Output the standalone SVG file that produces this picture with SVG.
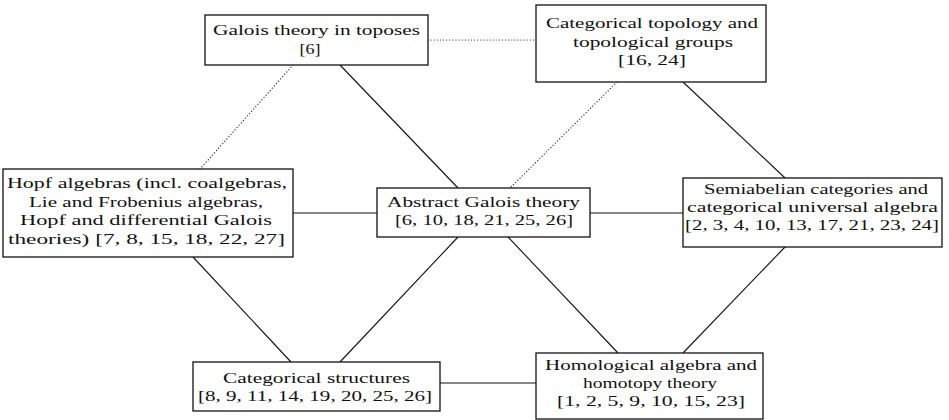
<svg xmlns="http://www.w3.org/2000/svg" width="949" height="420" viewBox="0 0 949 420">
<style>
.box{fill:#fff;stroke:#111;stroke-width:1.3}
.t{font-family:"Liberation Serif","Times New Roman",serif;font-size:15.5px;fill:#111;text-anchor:middle}
.s{stroke:#111;stroke-width:1.1;fill:none}
.d{stroke:#222;stroke-width:1.2;fill:none;stroke-dasharray:0.1 3;stroke-linecap:round}
</style>
<rect width="949" height="420" fill="#fff"/>
<g id="connectors">
<line class="s" x1="340" y1="65" x2="458" y2="188"/>
<line class="s" x1="683" y1="82" x2="785" y2="178"/>
<line class="s" x1="293" y1="213" x2="377" y2="213"/>
<line class="s" x1="590" y1="213" x2="683" y2="213"/>
<line class="s" x1="193" y1="257" x2="291" y2="362"/>
<line class="s" x1="458" y1="237" x2="340" y2="362"/>
<line class="s" x1="508" y1="237" x2="618" y2="353"/>
<line class="s" x1="785" y1="247" x2="683" y2="353"/>
<line class="s" x1="440" y1="383" x2="536" y2="383"/>
<line class="d" x1="428" y1="40" x2="536" y2="40"/>
<line class="d" x1="293" y1="65" x2="200" y2="169"/>
<line class="d" x1="617" y1="82" x2="510" y2="188"/>
</g>
<g id="galois-toposes">
<rect class="box" x="205" y="15" width="223" height="50"/>
<text class="t" x="316.5" y="35" textLength="207" lengthAdjust="spacingAndGlyphs">Galois theory in toposes</text>
<text class="t" x="310" y="53.5" textLength="21" lengthAdjust="spacingAndGlyphs">[6]</text>
</g>
<g id="categorical-topology">
<rect class="box" x="536" y="5" width="230" height="77"/>
<text class="t" x="652" y="28" textLength="212" lengthAdjust="spacingAndGlyphs">Categorical topology and</text>
<text class="t" x="653" y="46.5" textLength="160" lengthAdjust="spacingAndGlyphs">topological groups</text>
<text class="t" x="652" y="65" textLength="68" lengthAdjust="spacingAndGlyphs">[16, 24]</text>
</g>
<g id="hopf-algebras">
<rect class="box" x="3" y="169" width="290" height="88"/>
<text class="t" x="147" y="188" textLength="280" lengthAdjust="spacingAndGlyphs">Hopf algebras (incl. coalgebras,</text>
<text class="t" x="146" y="206.5" textLength="234" lengthAdjust="spacingAndGlyphs">Lie and Frobenius algebras,</text>
<text class="t" x="146" y="225" textLength="252" lengthAdjust="spacingAndGlyphs">Hopf and differential Galois</text>
<text class="t" x="146.5" y="243.5" textLength="277" lengthAdjust="spacingAndGlyphs">theories) [7, 8, 15, 18, 22, 27]</text>
</g>
<g id="abstract-galois">
<rect class="box" x="377" y="188" width="213" height="49"/>
<text class="t" x="483.5" y="207" textLength="193" lengthAdjust="spacingAndGlyphs">Abstract Galois theory</text>
<text class="t" x="484" y="225" textLength="178" lengthAdjust="spacingAndGlyphs">[6, 10, 18, 21, 25, 26]</text>
</g>
<g id="semiabelian">
<rect class="box" x="683" y="178" width="259" height="69"/>
<text class="t" x="816" y="194" textLength="224" lengthAdjust="spacingAndGlyphs">Semiabelian categories and</text>
<text class="t" x="812.5" y="212" textLength="251" lengthAdjust="spacingAndGlyphs">categorical universal algebra</text>
<text class="t" x="812" y="230" textLength="254" lengthAdjust="spacingAndGlyphs">[2, 3, 4, 10, 13, 17, 21, 23, 24]</text>
</g>
<g id="categorical-structures">
<rect class="box" x="193" y="362" width="247" height="49"/>
<text class="t" x="316.5" y="383" textLength="187" lengthAdjust="spacingAndGlyphs">Categorical structures</text>
<text class="t" x="315" y="401" textLength="234" lengthAdjust="spacingAndGlyphs">[8, 9, 11, 14, 19, 20, 25, 26]</text>
</g>
<g id="homological-algebra">
<rect class="box" x="536" y="353" width="227" height="66"/>
<text class="t" x="651" y="369.5" textLength="212" lengthAdjust="spacingAndGlyphs">Homological algebra and</text>
<text class="t" x="650" y="387.5" textLength="134" lengthAdjust="spacingAndGlyphs">homotopy theory</text>
<text class="t" x="651" y="405.5" textLength="188" lengthAdjust="spacingAndGlyphs">[1, 2, 5, 9, 10, 15, 23]</text>
</g>
</svg>
